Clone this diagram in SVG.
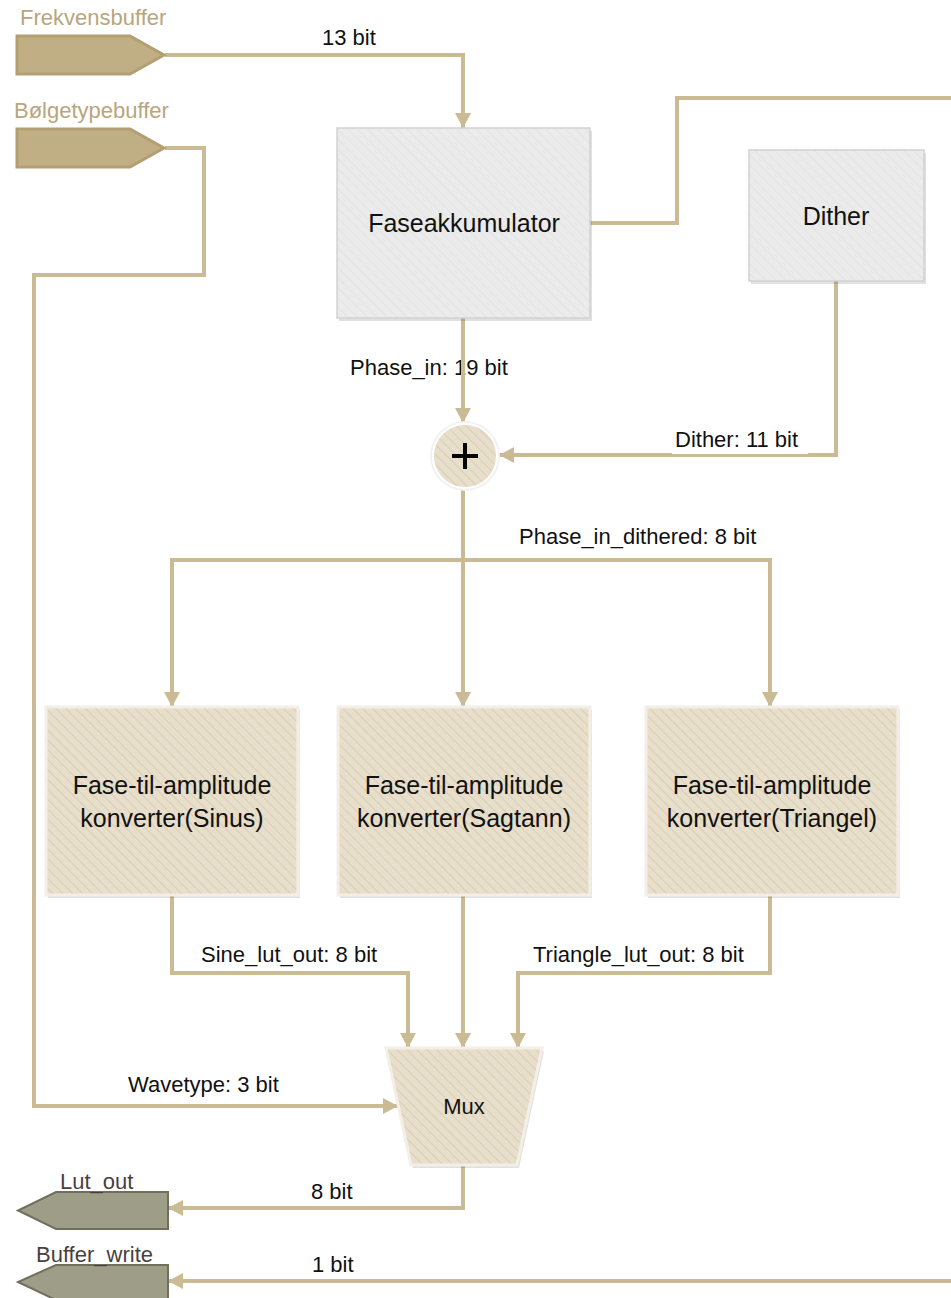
<svg xmlns="http://www.w3.org/2000/svg" width="951" height="1298" viewBox="0 0 951 1298">
  <style>
    .wire { fill: none; stroke: #CBBB94; stroke-width: 4; }
    .label { font-family: "Liberation Sans", Arial, sans-serif; font-size: 22px; fill: #111; }
    .port { font-family: "Liberation Sans", Arial, sans-serif; font-size: 22px; fill: #B8A67C; }
    .outport { font-family: "Liberation Sans", Arial, sans-serif; font-size: 22px; fill: #4A3F3F; }
    .title { font-family: "Liberation Sans", Arial, sans-serif; font-size: 25px; fill: #111; text-anchor: middle; }
    .grey { fill: url(#hatchGrey); stroke: #D2D2D2; stroke-width: 1.5; }
    .tan { fill: url(#hatchTan); stroke: #F3EFE7; stroke-width: 3; }
    .shadow { fill: #000; opacity: 0.12; }
  </style>
  <defs>
    <pattern id="hatchGrey" width="7" height="7" patternUnits="userSpaceOnUse" patternTransform="rotate(-45)">
      <rect width="7" height="7" fill="#EBEBEB"/>
      <line x1="0" y1="0" x2="0" y2="7" stroke="#E3E3E3" stroke-width="2"/>
    </pattern>
    <pattern id="hatchTan" width="7" height="7" patternUnits="userSpaceOnUse" patternTransform="rotate(-45)">
      <rect width="7" height="7" fill="#E7DECB"/>
      <line x1="0" y1="0" x2="0" y2="7" stroke="#DACEB3" stroke-width="2"/>
    </pattern>
    <marker id="arrow" viewBox="0 0 15 16" refX="15" refY="8" markerWidth="15" markerHeight="16" markerUnits="userSpaceOnUse" orient="auto">
      <path d="M0,0 L15,8 L0,16 z" fill="#CBBB94"/>
    </marker>
  </defs>

  <rect width="951" height="1298" fill="#FFFFFF"/>

  <!-- connectors -->
  <g id="connectors">
    <path class="wire" d="M165,55 H463 V128" marker-end="url(#arrow)"/>
    <path class="wire" d="M165,148 H204 V275 H34 V1106 H398" marker-end="url(#arrow)"/>
    <path class="wire" d="M590,223 H677 V98 H951"/>
    <path class="wire" d="M836,281 V455 H499" marker-end="url(#arrow)"/>
    <path class="wire" d="M463,490 V707" marker-end="url(#arrow)"/>
    <path class="wire" d="M463,560 H172 V707" marker-end="url(#arrow)"/>
    <path class="wire" d="M463,560 H770 V707" marker-end="url(#arrow)"/>
    <path class="wire" d="M172,895 V973 H408 V1048" marker-end="url(#arrow)"/>
    <path class="wire" d="M463,895 V1048" marker-end="url(#arrow)"/>
    <path class="wire" d="M770,895 V973 H518 V1048" marker-end="url(#arrow)"/>
    <path class="wire" d="M463,1165 V1208 H168" marker-end="url(#arrow)"/>
    <path class="wire" d="M951,1281 H168" marker-end="url(#arrow)"/>
  </g>

  <!-- connector labels -->
  <g id="connector-labels">
    <text class="label" x="322" y="45">13 bit</text>
    <text class="label" x="350" y="375">Phase_in: 19 bit</text>
    <rect x="672" y="425" width="136" height="29" fill="#FFFFFF"/>
    <text class="label" x="675" y="447">Dither: 11 bit</text>
    <text class="label" x="519" y="544">Phase_in_dithered: 8 bit</text>
    <text class="label" x="201" y="962">Sine_lut_out: 8 bit</text>
    <text class="label" x="533" y="962">Triangle_lut_out: 8 bit</text>
    <text class="label" x="128" y="1092">Wavetype: 3 bit</text>
    <text class="label" x="311" y="1199">8 bit</text>
    <text class="label" x="312" y="1272">1 bit</text>
  </g>
  <!-- the phase input wire runs over its own label -->
  <path class="wire" d="M463,318 V423" marker-end="url(#arrow)"/>

  <!-- input ports -->
  <g id="frekvensbuffer">
    <path d="M17,36 H130 L164,55 L130,74 H17 z" fill="#C0AE84" stroke="#B3A072" stroke-width="3"/>
    <text class="port" x="20" y="25">Frekvensbuffer</text>
  </g>
  <g id="bolgetypebuffer">
    <path d="M17,129 H130 L164,148 L130,167 H17 z" fill="#C0AE84" stroke="#B3A072" stroke-width="3"/>
    <text class="port" x="14" y="118">Bølgetypebuffer</text>
  </g>

  <!-- phase accumulator -->
  <g id="faseakkumulator">
    <rect class="shadow" x="339" y="131" width="253" height="190"/>
    <rect class="grey" x="337" y="128" width="253" height="190"/>
    <text class="title" x="464" y="232">Faseakkumulator</text>
  </g>

  <!-- dither source -->
  <g id="dither">
    <rect class="shadow" x="751" y="153" width="175" height="131"/>
    <rect class="grey" x="749" y="150" width="175" height="131"/>
    <text class="title" x="836" y="225">Dither</text>
  </g>

  <!-- adder -->
  <g id="adder">
    <circle cx="465" cy="456" r="35" fill="#F2F2F2"/>
    <circle cx="465" cy="456" r="32" fill="url(#hatchTan)" stroke="#FFFFFF" stroke-width="2"/>
    <path d="M452,456 H478 M465,443 V469" stroke="#000" stroke-width="4" fill="none"/>
  </g>

  <!-- phase-to-amplitude converters -->
  <g id="sinus">
    <rect class="shadow" x="48" y="710" width="252" height="188"/>
    <rect class="tan" x="46" y="707" width="252" height="188"/>
    <text class="title" x="172" y="794">Fase-til-amplitude</text>
    <text class="title" x="172" y="827">konverter(Sinus)</text>
  </g>
  <g id="sagtann">
    <rect class="shadow" x="340" y="710" width="252" height="188"/>
    <rect class="tan" x="338" y="707" width="252" height="188"/>
    <text class="title" x="464" y="794">Fase-til-amplitude</text>
    <text class="title" x="464" y="827">konverter(Sagtann)</text>
  </g>
  <g id="triangel">
    <rect class="shadow" x="648" y="710" width="252" height="188"/>
    <rect class="tan" x="646" y="707" width="252" height="188"/>
    <text class="title" x="772" y="794">Fase-til-amplitude</text>
    <text class="title" x="772" y="827">konverter(Triangel)</text>
  </g>

  <!-- multiplexer -->
  <g id="mux">
    <path class="shadow" d="M388,1051 H544 L519,1168 H413 z"/>
    <path class="tan" d="M386,1048 H542 L517,1165 H411 z"/>
    <text class="title" x="464" y="1114" style="font-size:22px">Mux</text>
  </g>

  <!-- output ports -->
  <g id="lut-out">
    <path d="M168,1192 V1229 H56 L18,1210.5 L56,1192 z" fill="#9E9E88" stroke="#6F6F5C" stroke-width="2"/>
    <text class="outport" x="60" y="1189">Lut_out</text>
  </g>
  <g id="buffer-write">
    <path d="M168,1265 V1300 H56 L18,1282 L56,1265 z" fill="#9E9E88" stroke="#6F6F5C" stroke-width="2"/>
    <text class="outport" x="36" y="1262">Buffer_write</text>
  </g>
</svg>
